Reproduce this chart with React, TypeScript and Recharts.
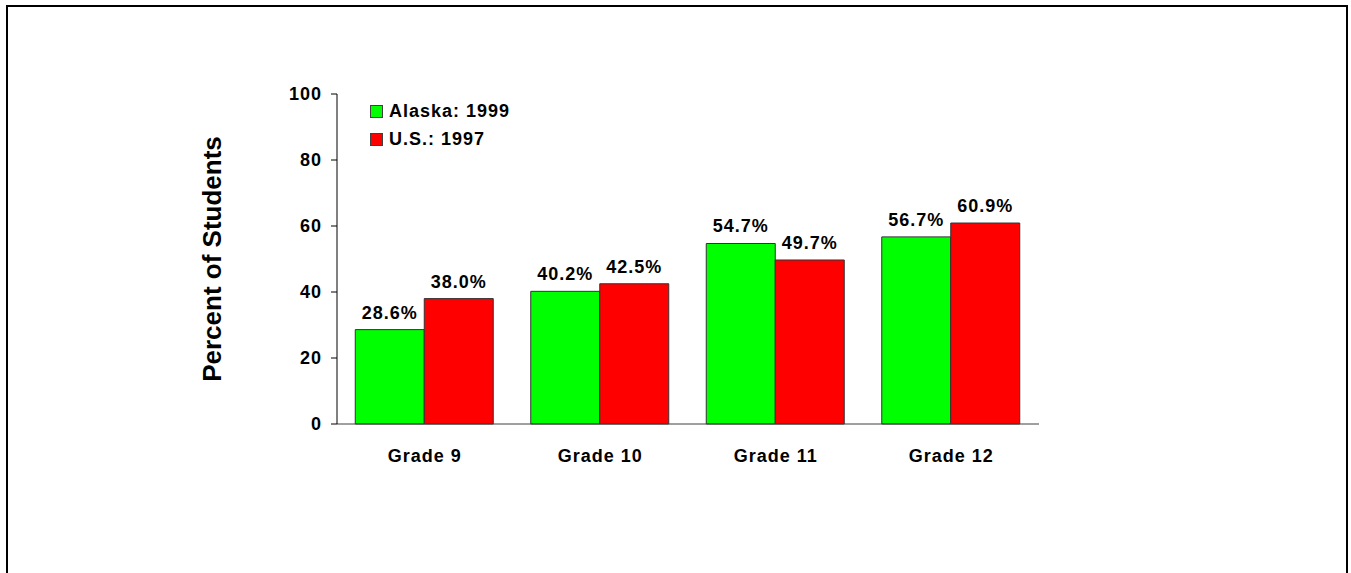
import { BarChart, Bar, XAxis, YAxis, Legend, LabelList } from "recharts"

const grades = ["Grade 9", "Grade 10", "Grade 11", "Grade 12"]
const alaska1999 = [28.6, 40.2, 54.7, 56.7]
const us1997 = [38.0, 42.5, 49.7, 60.9]
const yTicks = [0, 20, 40, 60, 80, 100]
const seriesNames = ["Alaska: 1999", "U.S.: 1997"]
const seriesColors = ["#00ff00", "#ff0000"]

const data = grades.map((grade, i) => ({ grade, alaska: alaska1999[i], us: us1997[i] }))

const font = "'Liberation Sans', Arial, sans-serif"
// the source picture is a bit wider than tall, so spread the letters a little
const tickStyle = { fill: "#000", fontSize: 18, fontWeight: "bold", fontFamily: font, letterSpacing: 1 }

const pct = (v: any) => `${Number(v).toFixed(1)}%`

function LegendBox() {
  return (
    <div style={{ fontFamily: font, fontSize: 18, fontWeight: "bold", color: "#000", letterSpacing: 1 }}>
      {seriesNames.map((name, i) => (
        <div key={name} style={{ display: "flex", alignItems: "center", height: 28 }}>
          <span
            style={{
              display: "inline-block",
              width: 13,
              height: 13,
              boxSizing: "border-box",
              border: "1px solid #404040",
              background: seriesColors[i],
              marginRight: 6,
            }}
          />
          <span>{name}</span>
        </div>
      ))}
    </div>
  )
}

export default function App() {
  return (
    <div style={{ position: "absolute", left: 0, top: 0, width: 1351, height: 573, overflow: "hidden", background: "#fff" }}>
      <div
        style={{
          position: "absolute",
          left: 6,
          top: 5,
          width: 1342,
          height: 620,
          border: "2px solid #000",
          boxSizing: "border-box",
        }}
      />
      <div style={{ position: "absolute", left: 0, top: 0 }}>
        <BarChart
          width={1351}
          height={573}
          data={data}
          margin={{ top: 94, right: 312, bottom: 119, left: 277 }}
          barGap={0}
          barCategoryGap="10.4%"
        >
          <XAxis
            dataKey="grade"
            interval={0}
            height={30}
            tickLine={false}
            tickSize={0}
            tickMargin={25}
            axisLine={{ stroke: "#404040" }}
            tick={tickStyle}
          />
          <YAxis
            domain={[0, 100]}
            ticks={yTicks}
            width={60}
            tickSize={6}
            tickMargin={9}
            axisLine={{ stroke: "#000" }}
            tickLine={{ stroke: "#000" }}
            tick={tickStyle}
            label={{
              value: "Percent of Students",
              angle: -90,
              position: "left",
              offset: 65,
              style: { textAnchor: "middle", fontSize: 26, fontWeight: "bold", fill: "#000", fontFamily: font },
            }}
          />
          <Legend
            layout="vertical"
            align="center"
            verticalAlign="middle"
            content={() => <LegendBox />}
            wrapperStyle={{ left: 370, top: 97, width: "auto" }}
          />
          <Bar dataKey="alaska" name={seriesNames[0]} fill={seriesColors[0]} stroke="#333" strokeWidth={1} isAnimationActive={false}>
            <LabelList dataKey="alaska" position="top" offset={11} formatter={pct} style={tickStyle} />
          </Bar>
          <Bar dataKey="us" name={seriesNames[1]} fill={seriesColors[1]} stroke="#333" strokeWidth={1} isAnimationActive={false}>
            <LabelList dataKey="us" position="top" offset={11} formatter={pct} style={tickStyle} />
          </Bar>
        </BarChart>
      </div>
    </div>
  )
}
